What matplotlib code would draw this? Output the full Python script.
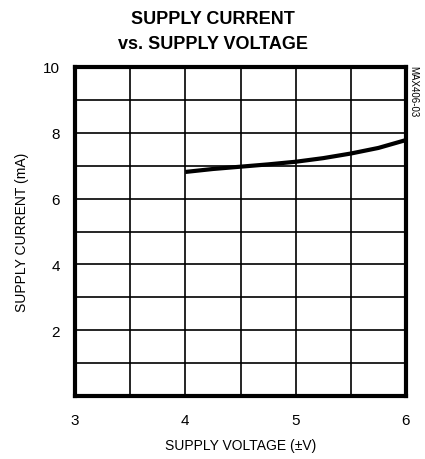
import matplotlib
matplotlib.use("Agg")
import matplotlib.pyplot as plt
import numpy as np

# supply voltage (+/-V) vs supply current (mA)
volts = [4.0, 4.25, 4.5, 4.75, 5.0, 5.25, 5.5, 5.75, 6.0]
current = [6.81, 6.90, 6.97, 7.04, 7.12, 7.23, 7.37, 7.54, 7.78]
xticks = [3, 4, 5, 6]
yticks = [2, 4, 6, 8, 10]

plt.rcParams["font.family"] = ["Liberation Sans", "DejaVu Sans"]

fig = plt.figure(figsize=(4.25, 4.6), dpi=100)
ax = fig.add_axes([75 / 425, 1 - 397 / 460, 331 / 425, 329 / 460])

ax.plot(volts, current, color="black", lw=3, solid_capstyle="butt")

ax.set_xlim(3, 6)
ax.set_ylim(0, 10)
ax.set_xticks(xticks)
ax.set_xticks(np.arange(3.5, 6, 1), minor=True)
ax.set_yticks(yticks)
ax.set_yticks(np.arange(1, 10, 2), minor=True)
ax.grid(True, which="both", color="black", lw=1.2)
ax.tick_params(which="both", length=0, labelsize=11)
ax.tick_params(axis="x", pad=12)
ax.tick_params(axis="y", pad=11)
ax.set_xticklabels([str(t) for t in xticks])
ax.set_yticklabels([str(t) for t in yticks])
for s in ax.spines.values():
    s.set_linewidth(3)

ax.set_xlabel("SUPPLY VOLTAGE (±V)", fontsize=10, labelpad=8)
ax.set_ylabel("SUPPLY CURRENT (mA)", fontsize=10, labelpad=10)
fig.text(0.5, 1 - 32 / 460, "SUPPLY CURRENT\nvs. SUPPLY VOLTAGE", ha="center", va="center",
         fontsize=13, fontweight="bold", linespacing=1.55)
fig.text(413 / 425, 1 - 92 / 460, "MAX406-03", rotation=270, ha="center", va="center",
         fontsize=7)

fig.savefig("out.png", dpi=100)
